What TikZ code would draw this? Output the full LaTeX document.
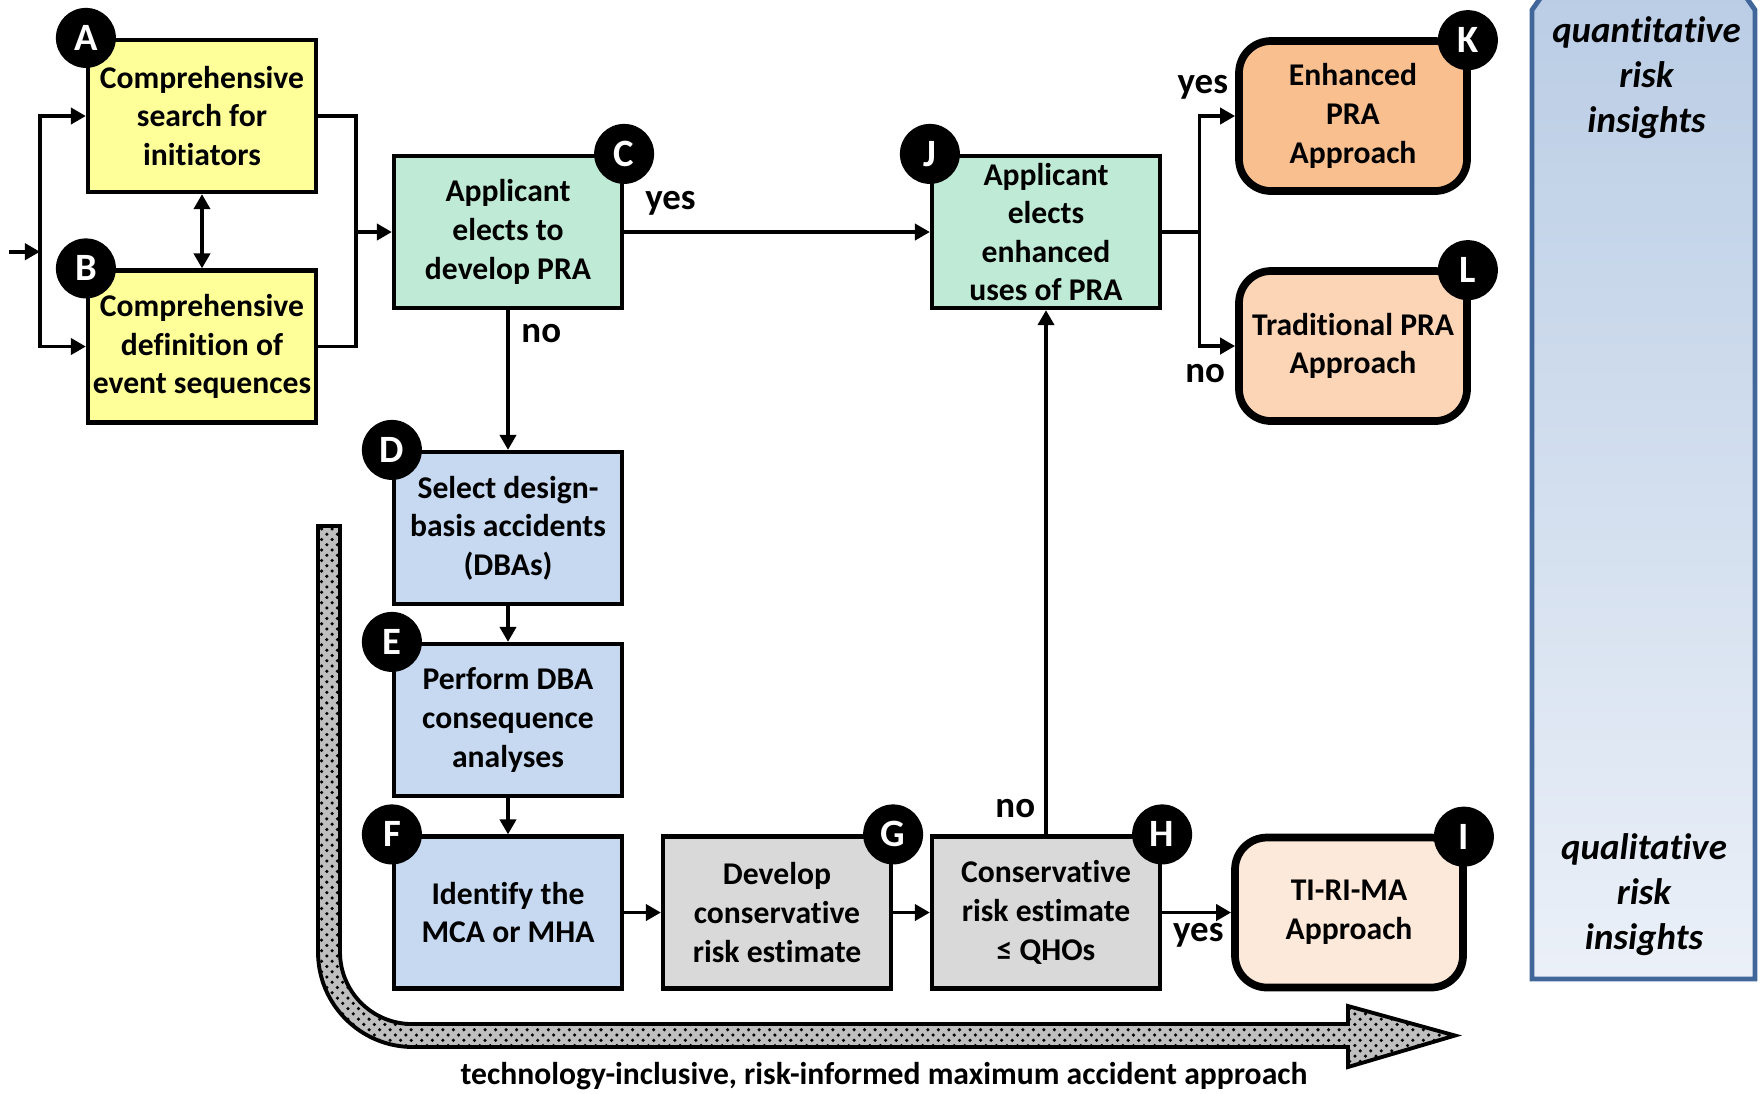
\documentclass[tikz,border=0pt]{standalone}
\usepackage{fontspec}
\setmainfont{Carlito}[Ligatures=NoCommon]
\usetikzlibrary{arrows.meta, patterns}

\definecolor{yellowbox}{HTML}{FFFF99}
\definecolor{greenbox}{HTML}{BFEAD5}
\definecolor{bluebox}{HTML}{C6D9F0}
\definecolor{graybox}{HTML}{D9D9D9}
\definecolor{enhbox}{HTML}{F9BF8F}
\definecolor{tradbox}{HTML}{FBD5B5}
\definecolor{tirimabox}{HTML}{FDE9D9}
\definecolor{bartop}{HTML}{B3C8E2}
\definecolor{barbottom}{HTML}{EBF0F8}
\definecolor{baredge}{HTML}{41679A}

\begin{document}
\begin{tikzpicture}[
    >={Triangle[length=1.5mm,width=1.6mm]},
    flow/.style={line width=1.1pt},
    procbox/.style={draw, line width=1.2pt, minimum width=2.28cm, minimum height=1.52cm,
      align=center, inner sep=1pt, font=\bfseries\fontsize{9}{11}\selectfont},
    roundbox/.style={procbox, rounded corners=0.32cm, line width=2.2pt, minimum height=1.5cm},
    tag/.style={circle, fill=black, text=white, minimum size=0.6cm, inner sep=0pt,
      font=\bfseries\fontsize{11}{11}\selectfont},
    answer/.style={font=\bfseries\fontsize{10.5}{12}\selectfont},
    insight/.style={align=center, font=\bfseries\itshape\fontsize{10.5}{12.8}\selectfont},
  ]
  \useasboundingbox (0,0) rectangle (17.61,-10.93);

  % insight bar on the right
  \begin{scope}
    \clip (0,0) rectangle (17.61,-10.93);
    \path[draw=baredge, line width=1.4pt, top color=bartop, bottom color=barbottom]
      (15.32,-9.79) -- (15.32,-0.10) -- (16.44,1.5) -- (17.55,-0.10) -- (17.55,-9.79) -- cycle;
  \end{scope}
  \node[insight] (quant) at (16.465,-0.775) {quantitative\\risk\\insights};
  \node[insight] (qual) at (16.44,-8.95) {qualitative\\risk\\insights};

  % broad TI-RI-MA arrow
  \draw[line width=1.1pt, preaction={fill=black!25}, pattern=crosshatch dots, pattern color=black]
    (3.18,-5.26) -- (3.40,-5.26) -- (3.40,-9.52)
    arc[start angle=180, end angle=270, radius=0.72] -- (13.48,-10.24) -- (13.48,-10.06)
    -- (14.55,-10.355) -- (13.48,-10.67) -- (13.48,-10.47) -- (4.13,-10.47)
    arc[start angle=270, end angle=180, radius=0.95] -- cycle;
  \node[font=\bfseries\fontsize{9}{11}\selectfont] (tirimalabel) at (8.84,-10.76)
    {technology-inclusive, risk-informed maximum accident approach};

  \node[procbox, fill=yellowbox] (boxA) at (2.02,-1.16) {Comprehensive\\search for\\initiators};
  \node[procbox, fill=yellowbox] (boxB) at (2.02,-3.465) {Comprehensive\\definition of\\event sequences};
  \node[procbox, fill=greenbox] (boxC) at (5.08,-2.32) {Applicant\\elects to\\develop PRA};
  \node[procbox, fill=bluebox] (boxD) at (5.08,-5.28) {Select design-\\basis accidents\\(DBAs)};
  \node[procbox, fill=bluebox] (boxE) at (5.08,-7.20) {Perform DBA\\consequence\\analyses};
  \node[procbox, fill=bluebox] (boxF) at (5.08,-9.125) {Identify the\\MCA or MHA};
  \node[procbox, fill=graybox] (boxG) at (7.77,-9.125) {Develop\\conservative\\risk estimate};
  \node[procbox, fill=graybox] (boxH) at (10.46,-9.125) {Conservative\\risk estimate\\≤ QHOs};
  \node[roundbox, fill=tirimabox] (boxI) at (13.49,-9.125) {TI-RI-MA\\Approach};
  \node[procbox, fill=greenbox] (boxJ) at (10.46,-2.32) {Applicant\\elects\\enhanced\\uses of PRA};
  \node[roundbox, fill=enhbox] (boxK) at (13.53,-1.16) {Enhanced\\PRA\\Approach};
  \node[roundbox, fill=tradbox] (boxL) at (13.53,-3.46) {Traditional PRA\\Approach};

  \node[tag] (tagA) at (boxA.north west) {A};
  \node[tag] (tagB) at (boxB.north west) {B};
  \node[tag] (tagC) at (boxC.north east) {C};
  \node[tag] (tagD) at (boxD.north west) {D};
  \node[tag] (tagE) at (boxE.north west) {E};
  \node[tag] (tagF) at (boxF.north west) {F};
  \node[tag] (tagG) at (boxG.north east) {G};
  \node[tag] (tagH) at (boxH.north east) {H};
  \node[tag] (tagI) at ([xshift=-0.03cm,yshift=-0.03cm]boxI.north east) {I};
  \node[tag] (tagJ) at (boxJ.north west) {J};
  \node[tag] (tagK) at ([xshift=-0.03cm,yshift=-0.03cm]boxK.north east) {K};
  \node[tag] (tagL) at ([xshift=-0.03cm,yshift=-0.03cm]boxL.north east) {L};

  \node[answer] (yesC) at (6.705,-2.033) {yes};
  \node[answer] (noC) at (5.413,-3.336) {no};
  \node[answer] (yesK) at (12.028,-0.876) {yes};
  \node[answer] (noL) at (12.051,-3.740) {no};
  \node[answer] (noH) at (10.153,-8.086) {no};
  \node[answer] (yesI) at (11.983,-9.355) {yes};

  \coordinate (start) at (0.09,-2.517);
  \coordinate (splitAB) at (0.40,-2.517);
  \coordinate (joinAB) at (3.556,-2.32);
  \coordinate (splitKL) at (11.995,-2.32);

  \draw[flow, ->] (start) -- (splitAB);
  \draw[flow, ->] (splitAB) |- (boxA.west);
  \draw[flow, ->] (splitAB) |- (boxB.west);
  \draw[flow, <->] (boxA.south) -- (boxB.north);
  \draw[flow] (boxA.east) -| (joinAB);
  \draw[flow] (boxB.east) -| (joinAB);
  \draw[flow, ->] (joinAB) -- (boxC.west);

  \draw[flow, ->] (boxC.east) -- (boxJ.west);
  \draw[flow, ->] (boxC.south) -- (boxD.north);
  \draw[flow, ->] (boxD.south) -- (boxE.north);
  \draw[flow, ->] (boxE.south) -- (boxF.north);
  \draw[flow, ->] (boxF.east) -- (boxG.west);
  \draw[flow, ->] (boxG.east) -- (boxH.west);
  \draw[flow, ->] (boxH.east) -- (boxI.west);
  \draw[flow, ->] (boxH.north) -- (boxJ.south);

  \draw[flow] (boxJ.east) -- (splitKL);
  \draw[flow, ->] (splitKL) |- (boxK.west);
  \draw[flow, ->] (splitKL) |- (boxL.west);
\end{tikzpicture}
\end{document}
